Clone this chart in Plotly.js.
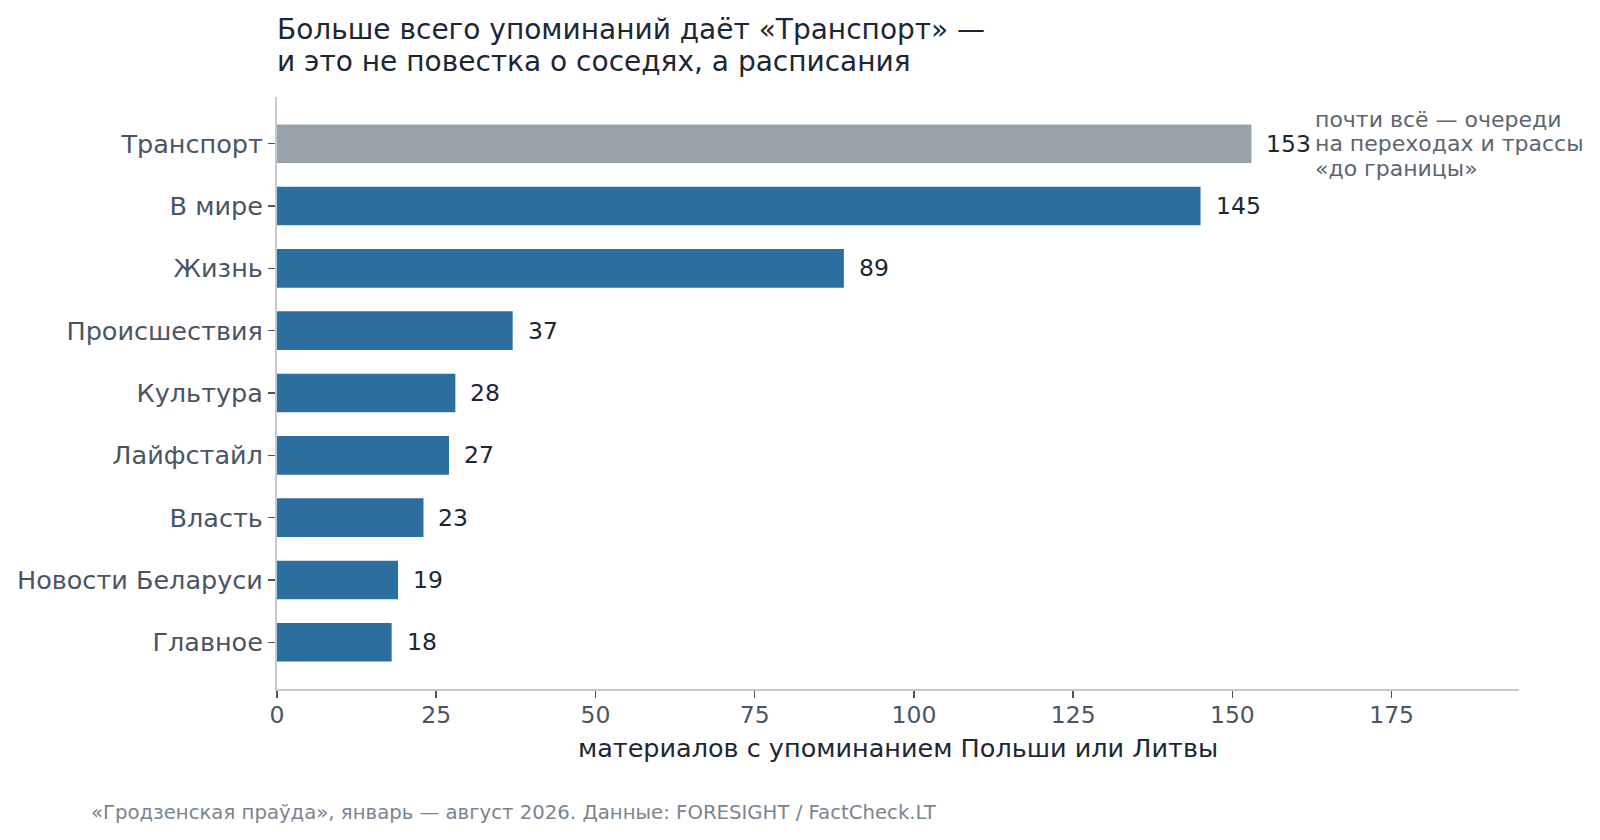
<!DOCTYPE html>
<html>
<head>
<meta charset="utf-8">
<script src="https://cdn.plot.ly/plotly-3.0.1.min.js"></script>
<style>
html,body{margin:0;padding:0;background:#fff;}
#chart{width:1600px;height:840px;}
</style>
</head>
<body>
<div id="chart"></div>
<script>
const categories = ["Транспорт","В мире","Жизнь","Происшествия","Культура","Лайфстайл","Власть","Новости Беларуси","Главное"];
const values = [153,145,89,37,28,27,23,19,18];
const highlight = "Транспорт";
const xTicks = [0,25,50,75,100,125,150,175];

const titleLines = ["Больше всего упоминаний даёт «Транспорт» —", "и это не повестка о соседях, а расписания"];
const xTitle = "материалов с упоминанием Польши или Литвы";
const noteLines = ["почти всё — очереди", "на переходах и трассы", "«до границы»"];
const sourceText = "«Гродзенская праўда», январь — август 2026. Данные: FORESIGHT / FactCheck.LT";

const FONT = "DejaVu Sans";
const BLUE = "#2c6e9e", GREY = "#98a2ab";

const colors = categories.map(c => c === highlight ? GREY : BLUE);

const trace = {
  type: "bar",
  orientation: "h",
  x: values,
  y: categories,
  width: 0.62,
  marker: {color: colors, line: {width: 0}},
  hoverinfo: "x+y"
};

const valueAnns = categories.map((c, i) => ({
  x: values[i], y: c, xref: "x", yref: "y",
  text: String(values[i]),
  showarrow: false, xanchor: "left", yanchor: "middle", xshift: 13,
  font: {family: FONT, size: 23.5, color: "#1c2733"}
}));

const noteAnns = noteLines.map((t, i) => ({
  x: (1313 - 277) / 1242, xref: "paper", y: highlight, yref: "y",
  yshift: (1 - i) * 24.5,
  text: t, showarrow: false,
  xanchor: "left", yanchor: "middle", align: "left",
  font: {family: FONT, size: 22, color: "#5b6670"}
}));

const layout = {
  width: 1600, height: 840,
  paper_bgcolor: "#fff", plot_bgcolor: "#fff",
  margin: {l: 277, r: 81, t: 97, b: 151},
  font: {family: FONT, color: "#1c2733"},
  showlegend: false,
  title: {
    text: titleLines[0],
    x: 0, xref: "paper", xanchor: "left",
    y: 1 - 29/840, yref: "container", yanchor: "middle",
    font: {family: FONT, size: 28, color: "#1c2733"}
  },
  xaxis: {
    range: [0, 195],
    tickvals: xTicks,
    ticktext: xTicks.map(String),
    showgrid: false, zeroline: false,
    showline: true, linecolor: "#c3c9d0", linewidth: 2,
    ticks: "outside", ticklen: 7, tickwidth: 1.5, tickcolor: "#4a5563",
    ticklabelstandoff: -3,
    tickfont: {family: FONT, size: 23.5, color: "#4a5563"},
    title: {text: xTitle, standoff: 11, font: {family: FONT, size: 25.5, color: "#1c2733"}},
    fixedrange: true
  },
  yaxis: {
    type: "category",
    categoryorder: "array", categoryarray: categories,
    range: [8.75, -0.75],
    showgrid: false, zeroline: false,
    showline: true, linecolor: "#c3c9d0", linewidth: 2,
    ticks: "outside", ticklen: 7, tickwidth: 1.5, tickcolor: "#4a5563",
    tickfont: {family: FONT, size: 25.5, color: "#4a5563"},
    fixedrange: true
  },
  annotations: valueAnns.concat(noteAnns, [
    {
      x: 0, xref: "paper", xshift: -2, y: (840 - 151 - 61.5) / 592, yref: "paper",
      text: titleLines[1], showarrow: false,
      xanchor: "left", yanchor: "middle", align: "left",
      font: {family: FONT, size: 28, color: "#1c2733"}
    },
    {
      x: (89 - 277) / 1242, xref: "paper", y: (689 - 812) / 592, yref: "paper",
      text: sourceText, showarrow: false,
      xanchor: "left", yanchor: "middle", align: "left",
      font: {family: FONT, size: 19.7, color: "#7a8590"}
    }
  ])
};

Plotly.newPlot("chart", [trace], layout, {displayModeBar: false, staticPlot: true});
</script>
</body>
</html>
